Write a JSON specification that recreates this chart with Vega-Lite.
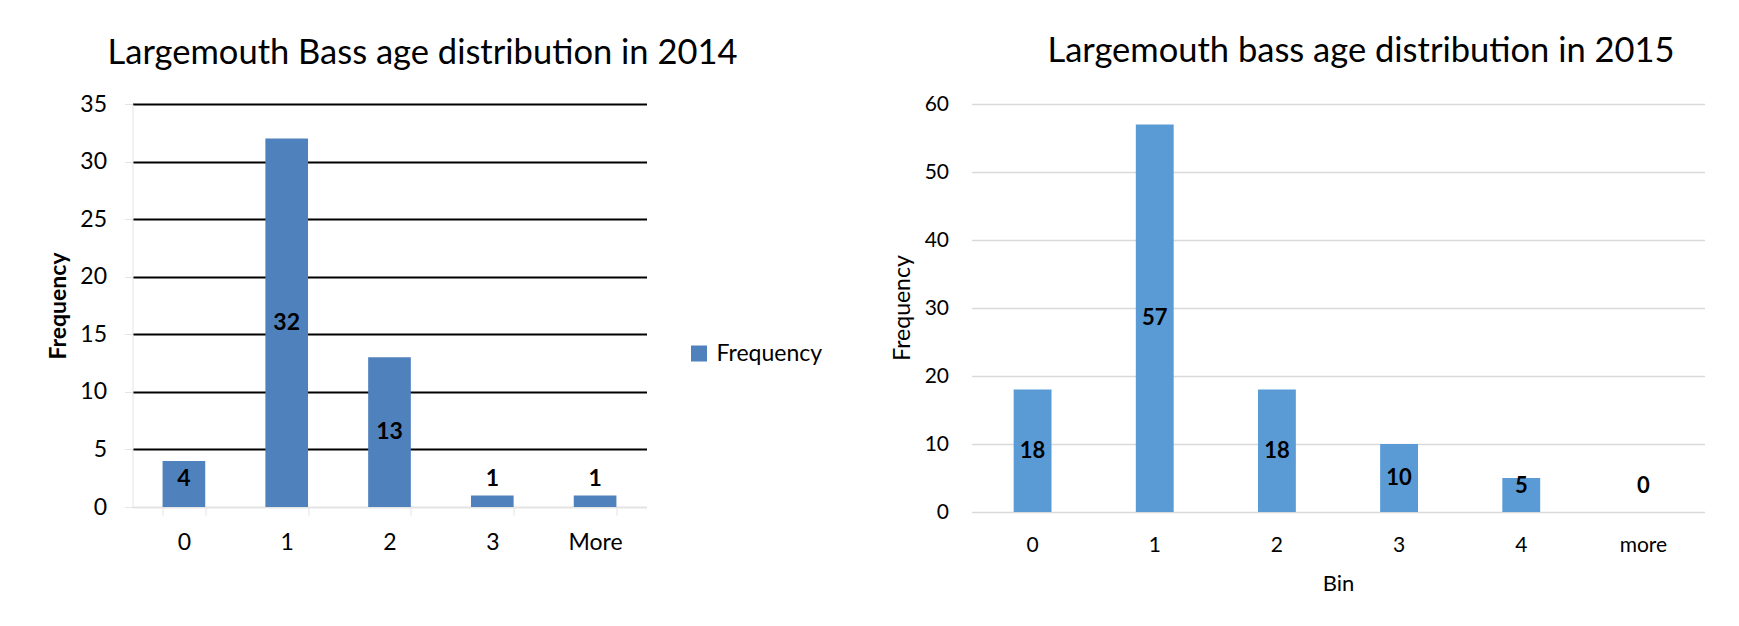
{
  "$schema": "https://vega.github.io/schema/vega-lite/v6.json",
  "background": "white",
  "autosize": {"type": "pad"},
  "padding": {"left": 47.5, "top": 33, "right": 0, "bottom": 0},
  "bounds": "flush",
  "spacing": 325,
  "config": {
    "font": "Lato",
    "view": {"stroke": null},
    "axis": {"labelFont": "Lato", "titleFont": "Lato", "labelColor": "black", "titleColor": "black"},
    "title": {"font": "Lato", "color": "black", "fontWeight": "normal"}
  },
  "hconcat": [
    {
      "width": 514,
      "height": 403,
      "title": {
        "text": "Largemouth Bass age distribution in 2014",
        "fontSize": 34.5,
        "anchor": "middle",
        "frame": "group",
        "dx": 33,
        "baseline": "alphabetic",
        "offset": -5
      },
      "data": {
        "values": [
          {"Bin": "0", "Frequency": 4},
          {"Bin": "1", "Frequency": 32},
          {"Bin": "2", "Frequency": 13},
          {"Bin": "3", "Frequency": 1},
          {"Bin": "More", "Frequency": 1}
        ]
      },
      "encoding": {
        "x": {
          "field": "Bin",
          "type": "nominal",
          "sort": null,
          "scale": {"paddingInner": 0.585, "paddingOuter": 0.2925},
          "axis": {
            "title": null,
            "labelAngle": 0,
            "labelFontSize": 23,
            "labelPadding": 16,
            "tickBand": "extent",
            "tickSize": 8,
            "tickColor": "#E4E4E4",
            "tickWidth": 1,
            "domainColor": "#E4E4E4",
            "domainWidth": 1,
            "grid": false
          }
        }
      },
      "layer": [
        {
          "mark": {"type": "bar"},
          "encoding": {
            "y": {
              "field": "Frequency",
              "type": "quantitative",
              "title": "Frequency",
              "scale": {"domain": [0, 35]},
              "axis": {
                "values": [0, 5, 10, 15, 20, 25, 30, 35],
                "titleFontSize": 23,
                "titleFontWeight": "bold",
                "titleAngle": -90,
                "titleAlign": "center",
                "titleBaseline": "middle",
                "titleX": -74,
                "titleY": 201.5,
                "labelFontSize": 23,
                "labelPadding": 18,
                "tickSize": 8,
                "tickColor": "#E4E4E4",
                "domainColor": "#E4E4E4",
                "grid": true,
                "gridWidth": 2,
                "gridColor": {"condition": {"test": "datum.value === 0", "value": "#E4E4E4"}, "value": "black"}
              }
            },
            "color": {
              "datum": "Frequency",
              "type": "nominal",
              "scale": {"range": ["#4F81BD"]},
              "legend": {
                "orient": "none",
                "legendX": 555,
                "legendY": 238,
                "title": null,
                "padding": 0,
                "symbolType": "square",
                "symbolSize": 256,
                "symbolStrokeWidth": 0,
                "labelFont": "Lato",
                "labelFontSize": 23,
                "labelColor": "black",
                "labelOffset": 6
              }
            }
          }
        },
        {
          "transform": [{"calculate": "max(datum.Frequency / 2, 2.43)", "as": "labelPos"}],
          "mark": {"type": "text", "fontWeight": "bold", "fontSize": 23, "color": "black", "baseline": "middle"},
          "encoding": {
            "y": {"field": "labelPos", "type": "quantitative", "title": "Frequency"},
            "text": {"field": "Frequency", "type": "quantitative"}
          }
        }
      ]
    },
    {
      "width": 733,
      "height": 408,
      "title": {
        "text": "Largemouth bass age distribution in 2015",
        "fontSize": 34.5,
        "anchor": "middle",
        "frame": "group",
        "dx": 23,
        "baseline": "alphabetic",
        "offset": -3
      },
      "data": {
        "values": [
          {"Bin": "0", "Frequency": 18},
          {"Bin": "1", "Frequency": 57},
          {"Bin": "2", "Frequency": 18},
          {"Bin": "3", "Frequency": 10},
          {"Bin": "4", "Frequency": 5},
          {"Bin": "more", "Frequency": 0}
        ]
      },
      "encoding": {
        "x": {
          "field": "Bin",
          "type": "nominal",
          "sort": null,
          "scale": {"paddingInner": 0.69, "paddingOuter": 0.345},
          "axis": {
            "title": "Bin",
            "titleFontSize": 22,
            "titleFontWeight": "normal",
            "titleBaseline": "middle",
            "titleY": 71,
            "labelAngle": 0,
            "labelFontSize": 21,
            "labelPadding": 22,
            "ticks": false,
            "tickSize": 0,
            "domain": false,
            "grid": false
          }
        }
      },
      "layer": [
        {
          "mark": {"type": "bar", "color": "#5B9BD5"},
          "encoding": {
            "y": {
              "field": "Frequency",
              "type": "quantitative",
              "title": "Frequency",
              "scale": {"domain": [0, 60]},
              "axis": {
                "values": [0, 10, 20, 30, 40, 50, 60],
                "titleFontSize": 23,
                "titleFontWeight": "normal",
                "titleAngle": -90,
                "titleAlign": "center",
                "titleBaseline": "middle",
                "titleX": -69,
                "titleY": 203.5,
                "labelFontSize": 21,
                "labelPadding": 23,
                "ticks": false,
                "tickSize": 0,
                "domain": false,
                "grid": true,
                "gridWidth": 1.5,
                "gridColor": "#D9D9D9"
              }
            }
          }
        },
        {
          "transform": [{"calculate": "max(datum.Frequency / 2, 3.8)", "as": "labelPos"}],
          "mark": {"type": "text", "fontWeight": "bold", "fontSize": 22, "color": "black", "baseline": "middle"},
          "encoding": {
            "y": {"field": "labelPos", "type": "quantitative", "title": "Frequency"},
            "text": {"field": "Frequency", "type": "quantitative"}
          }
        }
      ]
    }
  ]
}
